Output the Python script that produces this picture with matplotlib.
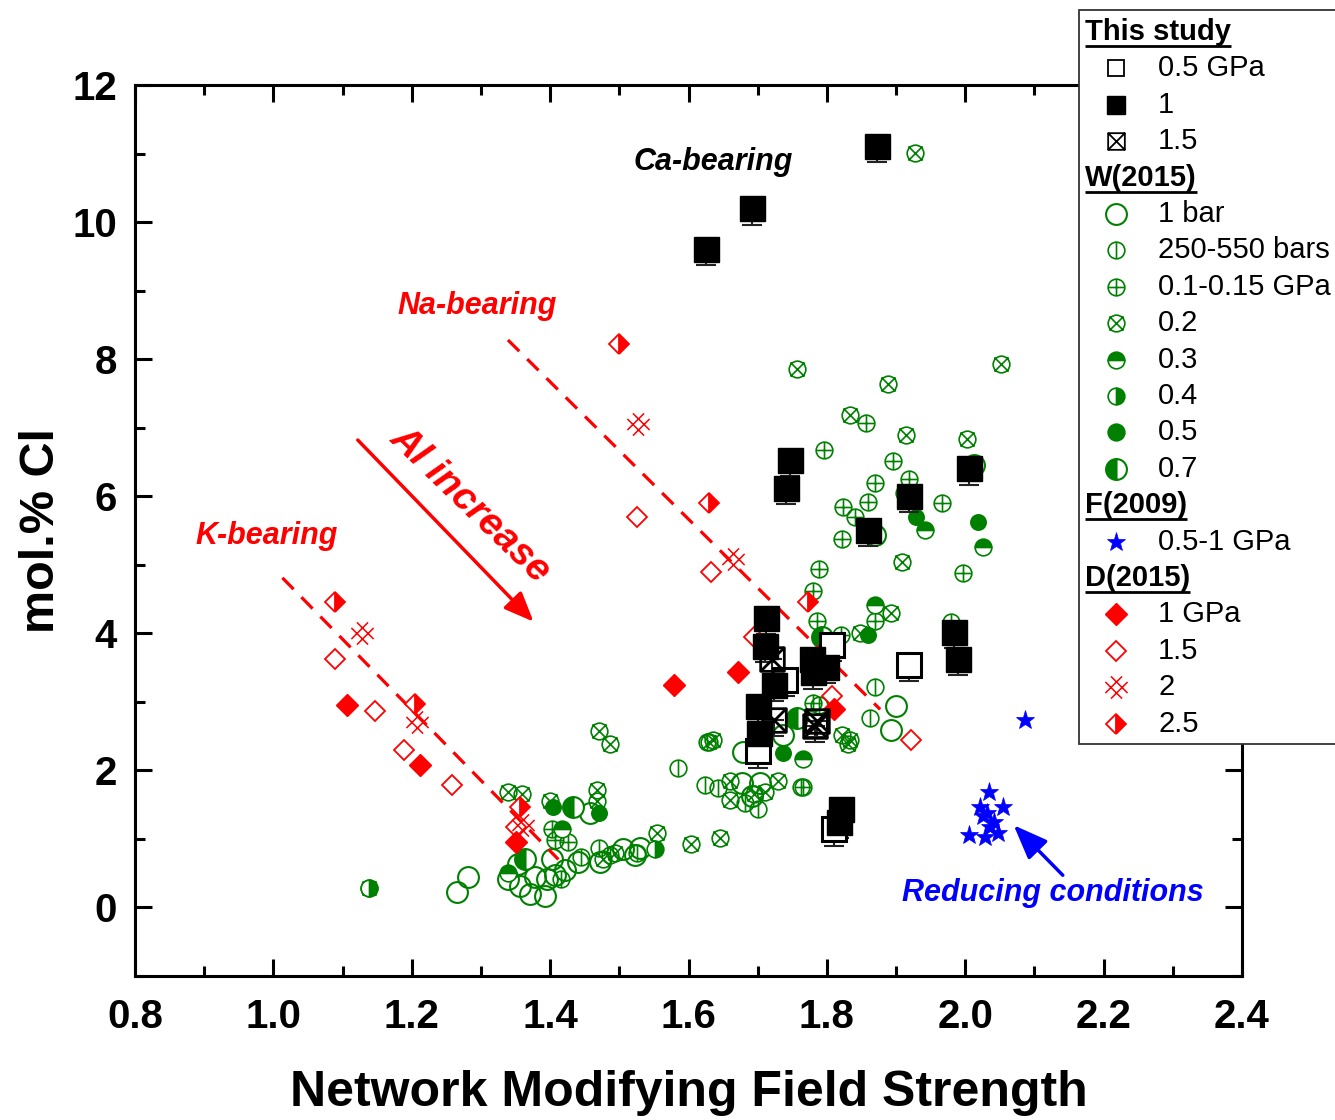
#!/usr/bin/env python
# -*- coding: utf-8 -*-

"""
Cl solubility vs network modifying field strength.
"""

import numpy as np
import matplotlib
matplotlib.use("Agg")
import matplotlib.pyplot as plt
from matplotlib.path import Path
from matplotlib.patches import Rectangle

plt.rcParams["font.family"] = ["Liberation Sans", "DejaVu Sans"]

# -- this study
s05_x = [1.808, 1.919, 1.740, 1.701, 1.811]
s05_y = [3.83, 3.54, 3.32, 2.28, 1.14]
s1_x = [1.873, 1.692, 1.626, 1.747, 1.741, 2.005, 1.919, 1.860, 1.712, 1.710,
        1.984, 1.990, 1.723, 1.701, 1.702, 1.779, 1.799, 1.780, 1.821, 1.817]
s1_y = [11.11, 10.20, 9.61, 6.53, 6.12, 6.41, 6.01, 5.51, 4.23, 3.82,
        4.02, 3.63, 3.25, 2.94, 2.55, 3.62, 3.51, 3.43, 1.43, 1.25]
s15_x = [1.721, 1.723, 1.783, 1.786]
s15_y = [3.63, 2.74, 2.65, 2.72]
s_err = 0.24

# -- W(2015)
w1bar_x = [1.266, 1.282, 1.339, 1.357, 1.378, 1.396, 1.407, 1.371, 1.393, 1.441,
           1.458, 1.506, 1.523, 1.678, 1.704, 1.692, 1.737, 1.679, 1.900, 1.892,
           1.870, 2.012, 1.422, 1.354, 1.403, 1.472, 1.530]
w1bar_y = [0.23, 0.45, 0.41, 0.31, 0.44, 0.41, 0.48, 0.19, 0.16, 0.66,
           1.38, 0.85, 0.77, 1.82, 1.82, 1.62, 2.52, 2.27, 2.94, 2.59,
           5.44, 6.46, 0.55, 0.63, 0.70, 0.67, 0.87]
w250_x = [1.585, 1.624, 1.642, 1.470, 1.526, 1.627, 1.870, 1.863, 1.788, 1.701,
          1.682, 1.762, 1.444, 1.415, 1.487]
w250_y = [2.04, 1.79, 1.75, 0.87, 0.80, 2.42, 3.21, 2.77, 2.96, 1.43,
          1.53, 1.76, 0.73, 0.41, 0.77]
w01_x = [1.857, 1.796, 1.896, 1.869, 1.919, 1.911, 1.824, 1.859, 1.841, 1.967,
         1.822, 1.788, 1.780, 1.997, 1.786, 1.869, 1.979, 1.820, 1.765, 1.780,
         1.407, 1.426, 1.403]
w01_y = [7.07, 6.68, 6.52, 6.20, 6.25, 6.05, 5.85, 5.92, 5.70, 5.90,
         5.38, 4.94, 4.62, 4.88, 4.18, 4.18, 4.17, 3.97, 1.76, 2.99,
         0.99, 0.96, 1.14]
w02_x = [1.928, 1.757, 1.889, 2.051, 1.834, 1.914, 2.003, 1.909, 1.892, 1.848,
         1.470, 1.487, 1.636, 1.629, 1.730, 1.660, 1.660, 1.694, 1.711, 1.822,
         1.834, 1.831, 1.555, 1.603, 1.646, 1.339, 1.360, 1.400, 1.468, 1.468,
         1.477, 1.494, 1.138]
w02_y = [11.01, 7.86, 7.64, 7.93, 7.19, 6.90, 6.84, 5.04, 4.30, 4.01,
         2.57, 2.39, 2.45, 2.42, 1.84, 1.84, 1.57, 1.65, 1.68, 2.52,
         2.45, 2.38, 1.09, 0.92, 1.02, 1.68, 1.65, 1.55, 1.72, 1.55,
         0.70, 0.80, 0.28]
w03_x = [1.869, 1.942, 2.025, 1.765, 1.417, 1.339]
w03_y = [4.42, 5.51, 5.26, 2.17, 1.14, 0.51]
w04_x = [1.552, 1.138]
w04_y = [0.85, 0.28]
w05_x = [1.929, 2.018, 1.737, 1.859, 1.404, 1.470]
w05_y = [5.70, 5.63, 2.26, 3.98, 1.46, 1.38]
w07_x = [1.757, 1.433, 1.364, 1.793]
w07_y = [2.77, 1.46, 0.70, 3.95]

# -- F(2009)
f_x = [2.035, 2.022, 2.055, 2.026, 2.041, 2.006, 2.029, 2.047, 2.036, 2.032, 2.087]
f_y = [1.68, 1.47, 1.47, 1.33, 1.24, 1.06, 1.03, 1.09, 1.18, 1.38, 2.74]

# -- D(2015)
d1_x = [1.107, 1.212, 1.351, 1.579, 1.672, 1.811]
d1_y = [2.96, 2.08, 0.95, 3.24, 3.43, 2.89]
d15_x = [1.089, 1.147, 1.189, 1.258, 1.350, 1.526, 1.632, 1.808, 1.921, 1.694]
d15_y = [3.63, 2.87, 2.30, 1.79, 1.17, 5.70, 4.90, 3.08, 2.45, 3.95]
d2_x = [1.128, 1.208, 1.361, 1.527, 1.665]
d2_y = [4.01, 2.70, 1.21, 7.06, 5.09]
d25_x = [1.089, 1.205, 1.357, 1.500, 1.630, 1.773]
d25_y = [4.46, 2.97, 1.47, 8.22, 5.90, 4.46]

# -- trend lines (K- and Na-bearing)
k_line_x = [1.013, 1.412]
k_line_y = [4.81, 0.70]
na_line_x = [1.339, 1.877]
na_line_y = [8.28, 2.89]


# -- custom markers
def seg(p0, p1):
    return Path([p0, p1], [Path.MOVETO, Path.LINETO])


circ = Path.unit_circle()
mk_vline = Path.make_compound_path(circ, seg((0, -1), (0, 1)))
mk_plus = Path.make_compound_path(circ, seg((0, -1), (0, 1)), seg((-1, 0), (1, 0)))
mk_xcirc = Path.make_compound_path(circ, seg((-0.85, -0.85), (0.85, 0.85)),
                                   seg((-0.85, 0.85), (0.85, -0.85)))
sq = Path([(-1, -1), (1, -1), (1, 1), (-1, 1), (-1, -1)],
          [Path.MOVETO, Path.LINETO, Path.LINETO, Path.LINETO, Path.CLOSEPOLY])
mk_xsq = Path.make_compound_path(sq, seg((-1, -1), (1, 1)), seg((-1, 1), (1, -1)))
mk_dx = Path.make_compound_path(seg((-0.5, -1), (1, 0.5)), seg((-1, -0.5), (0.5, 1)),
                                seg((-0.5, 1), (1, -0.5)), seg((-1, 0.5), (0.5, -1)))

G = "green"
R = "red"
B = "blue"

styles = {
    "s05": dict(marker="s", mfc="white", mec="black", mew=2.2),
    "s1": dict(marker="s", mfc="black", mec="black", mew=1.0),
    "s15": dict(marker=mk_xsq, mfc="none", mec="black", mew=2.0),
    "w1bar": dict(marker="o", mfc="none", mec=G, mew=1.5),
    "w250": dict(marker=mk_vline, mfc="none", mec=G, mew=1.2),
    "w01": dict(marker=mk_plus, mfc="none", mec=G, mew=1.2),
    "w02": dict(marker=mk_xcirc, mfc="none", mec=G, mew=1.2),
    "w03": dict(marker="o", fillstyle="top", mfc=G, mfcalt="white", mec=G, mew=1.2),
    "w04": dict(marker="o", fillstyle="right", mfc=G, mfcalt="white", mec=G, mew=1.2),
    "w05": dict(marker="o", mfc=G, mec=G, mew=1.2),
    "w07": dict(marker="o", fillstyle="left", mfc=G, mfcalt="white", mec=G, mew=1.5),
    "f": dict(marker="*", mfc=B, mec=B, mew=0.5),
    "d1": dict(marker="D", mfc=R, mec=R, mew=1.0),
    "d15": dict(marker="D", mfc="none", mec=R, mew=1.3),
    "d2": dict(marker=mk_dx, mfc="none", mec=R, mew=1.1),
    "d25": dict(marker="D", fillstyle="right", mfc=R, mfcalt="white", mec=R, mew=1.3),
}

plot_ms = {"s05": 17, "s1": 18, "s15": 17, "w1bar": 15, "w250": 12, "w01": 12,
           "w02": 12, "w03": 12, "w04": 12, "w05": 11, "w07": 15, "f": 14,
           "d1": 11, "d15": 10, "d2": 16, "d25": 10}

# -- figure
fig = plt.figure(figsize=(13.35, 11.2), dpi=100)
ax = fig.add_axes([135 / 1335, 1 - 976 / 1120, (1242 - 135) / 1335, (976 - 85) / 1120])

# -- W(2015)
for key, xs, ys in [("w1bar", w1bar_x, w1bar_y), ("w250", w250_x, w250_y),
                    ("w01", w01_x, w01_y), ("w02", w02_x, w02_y),
                    ("w03", w03_x, w03_y), ("w04", w04_x, w04_y),
                    ("w05", w05_x, w05_y), ("w07", w07_x, w07_y)]:
    ax.plot(xs, ys, ls="none", ms=plot_ms[key], zorder=2, **styles[key])

# -- trend lines
for lx, ly in [(k_line_x, k_line_y), (na_line_x, na_line_y)]:
    ax.plot(lx, ly, color=R, lw=2.3, dashes=(5, 3.5), zorder=3)

# -- D(2015)
for key, xs, ys in [("d1", d1_x, d1_y), ("d15", d15_x, d15_y),
                    ("d2", d2_x, d2_y), ("d25", d25_x, d25_y)]:
    ax.plot(xs, ys, ls="none", ms=plot_ms[key], zorder=4, **styles[key])

# -- F(2009)
ax.plot(f_x, f_y, ls="none", ms=plot_ms["f"], zorder=4, **styles["f"])

# -- this study (lower error bar shows below each square)
for key, xs, ys in [("s05", s05_x, s05_y), ("s1", s1_x, s1_y), ("s15", s15_x, s15_y)]:
    yerr = [[s_err] * len(ys), [0.0] * len(ys)]
    ax.errorbar(xs, ys, yerr=yerr, fmt="none", ecolor="#222222", elinewidth=1.5,
                capsize=7, capthick=1.5, zorder=5)
    ax.plot(xs, ys, ls="none", ms=plot_ms[key], zorder=6, **styles[key])

# -- annotations
ax.text(1.636, 10.88, "Ca-bearing", fontsize=22, fontweight="bold", style="italic",
        color="black", ha="center", va="center", zorder=10)
ax.text(1.295, 8.77, "Na-bearing", fontsize=22, fontweight="bold", style="italic",
        color=R, ha="center", va="center", zorder=10)
ax.text(0.991, 5.42, "K-bearing", fontsize=22, fontweight="bold", style="italic",
        color=R, ha="center", va="center", zorder=10)
ax.text(2.126, 0.21, "Reducing conditions", fontsize=22, fontweight="bold", style="italic",
        color=B, ha="center", va="center", zorder=10)
ax.text(1.285, 5.87, "Al increase", fontsize=28, fontweight="bold", style="italic",
        color=R, ha="center", va="center", rotation=-44, rotation_mode="anchor", zorder=10)
ax.annotate("", xy=(1.376, 4.17), xytext=(1.122, 6.82),
            arrowprops=dict(arrowstyle="-|>,head_length=1.2,head_width=0.5",
                            color=R, lw=2.5, mutation_scale=15, shrinkA=0, shrinkB=0),
            zorder=10)
ax.annotate("", xy=(2.070, 1.20), xytext=(2.141, 0.47),
            arrowprops=dict(arrowstyle="-|>,head_length=1.4,head_width=0.55",
                            color=B, lw=2.5, mutation_scale=15, shrinkA=0, shrinkB=0),
            zorder=10)

# -- axes
ax.set_xlim(0.8, 2.4)
ax.set_ylim(-1, 12)
ax.set_xticks(np.arange(0.8, 2.41, 0.2))
ax.set_xticks(np.arange(0.9, 2.4, 0.2), minor=True)
ax.set_yticks(np.arange(0, 13, 2))
ax.set_yticks(np.arange(-1, 12, 2), minor=True)
ax.set_xticklabels(["%.1f" % v for v in np.arange(0.8, 2.41, 0.2)])
ax.tick_params(which="both", direction="in", top=True, right=True, width=2.2,
               labelsize=29)
ax.tick_params(which="major", length=12)
ax.tick_params(which="minor", length=7)
ax.tick_params(axis="y", pad=13)
ax.tick_params(axis="x", pad=16)
for lab in ax.get_xticklabels() + ax.get_yticklabels():
    lab.set_fontweight("bold")
for sp in ax.spines.values():
    sp.set_linewidth(2.2)
ax.set_xlabel("Network Modifying Field Strength", fontsize=36, fontweight="bold",
              labelpad=24)
ax.set_ylabel("mol.% Cl", fontsize=35, fontweight="bold", labelpad=6)

# -- legend drawn in pixel coordinates
lax = fig.add_axes([0, 0, 1, 1], zorder=20)
lax.set_xlim(0, 1335)
lax.set_ylim(1120, 0)
lax.axis("off")
lax.add_patch(Rectangle((1079, 10), 300, 734, facecolor="white", edgecolor="#333333",
                        lw=1.3, clip_on=False))

leg_rows = [("h", "This study"), ("s05", "0.5 GPa"), ("s1", "1"), ("s15", "1.5"),
            ("h", "W(2015)"), ("w1bar", "1 bar"), ("w250", "250-550 bars"),
            ("w01", "0.1-0.15 GPa"), ("w02", "0.2"), ("w03", "0.3"), ("w04", "0.4"),
            ("w05", "0.5"), ("w07", "0.7"), ("h", "F(2009)"), ("f", "0.5-1 GPa"),
            ("h", "D(2015)"), ("d1", "1 GPa"), ("d15", "1.5"), ("d2", "2"), ("d25", "2.5")]
leg_ms = {"s05": 12, "s1": 13, "s15": 12, "w1bar": 15, "w250": 12, "w01": 12,
          "w02": 12, "w03": 12, "w04": 12, "w05": 12, "w07": 15, "f": 14,
          "d1": 11, "d15": 10, "d2": 16, "d25": 10}
leg_style = dict(styles)
leg_style["s05"] = dict(styles["s05"], mew=1.3)
leg_style["s15"] = dict(styles["s15"], mew=1.3)

fig.canvas.draw()
rend = fig.canvas.get_renderer()
inv = lax.transData.inverted()
for i, (key, label) in enumerate(leg_rows):
    yy = 32 + i * 36.4
    if key == "h":
        t = lax.text(1085, yy, label, fontsize=21, fontweight="bold", ha="left",
                     va="center")
        bb = t.get_window_extent(rend)
        x0, _ = inv.transform((bb.x0, bb.y0))
        x1, _ = inv.transform((bb.x1, bb.y0))
        lax.plot([x0, x1], [yy + 14, yy + 14], color="black", lw=2.0,
                 solid_capstyle="butt")
    else:
        lax.plot([1116], [yy], ls="none", ms=leg_ms[key], **leg_style[key])
        lax.text(1158, yy, label, fontsize=21, ha="left", va="center")

fig.savefig("out.png", dpi=100)
